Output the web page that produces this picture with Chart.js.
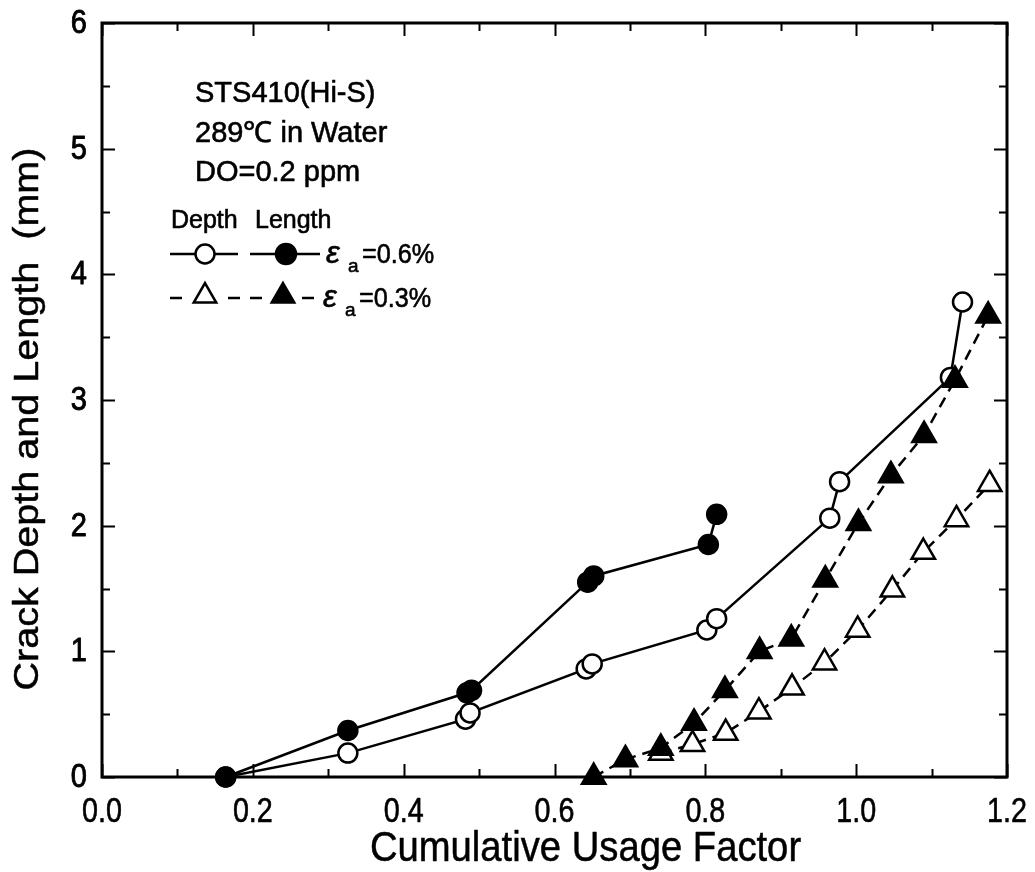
<!DOCTYPE html>
<html>
<head>
<meta charset="utf-8">
<script src="https://cdn.jsdelivr.net/npm/chart.js@4.4.1/dist/chart.umd.min.js"></script>
<style>
  html, body { margin: 0; padding: 0; background: #fff; }
  canvas { display: block; }
</style>
</head>
<body>
<canvas id="chart" width="1035" height="872"></canvas>
<script>
// Crack growth vs. cumulative usage factor, STS410(Hi-S), 289 ℃ water
const depth06X  = [0.164, 0.326, 0.482, 0.488, 0.642, 0.650, 0.802, 0.815, 0.965, 0.978, 1.125, 1.141];
const depth06Y  = [0.00, 0.19, 0.46, 0.51, 0.86, 0.90, 1.17, 1.26, 2.06, 2.35, 3.18, 3.78];

const length06X = [0.164, 0.326, 0.484, 0.490, 0.644, 0.652, 0.804, 0.815];
const length06Y = [0.00, 0.37, 0.67, 0.69, 1.55, 1.60, 1.85, 2.09];

const depth03X  = [0.741, 0.783, 0.827, 0.871, 0.915, 0.958, 1.002, 1.048, 1.089, 1.133, 1.177];
const depth03Y  = [0.19, 0.26, 0.35, 0.52, 0.71, 0.91, 1.17, 1.49, 1.79, 2.05, 2.33];

const length03X = [0.652, 0.694, 0.741, 0.785, 0.826, 0.872, 0.914, 0.959, 1.003, 1.046, 1.090, 1.131, 1.175];
const length03Y = [0.00, 0.14, 0.23, 0.43, 0.69, 1.00, 1.10, 1.57, 2.02, 2.40, 2.72, 3.16, 3.67];

const xMajorTicks = [0.0, 0.2, 0.4, 0.6, 0.8, 1.0, 1.2];
const xMinorTicks = [0.1, 0.3, 0.5, 0.7, 0.9, 1.1];
const yMajorTicks = [0, 1, 2, 3, 4, 5, 6];
const yMinorTicks = [0.5, 1.5, 2.5, 3.5, 4.5, 5.5];

const xTitle = 'Cumulative Usage Factor';
const yTitle = 'Crack Depth and Length  (mm)';
const infoLines = ['STS410(Hi-S)', '289℃ in Water', 'DO=0.2 ppm'];

const SANS = "'Liberation Sans', Arial, sans-serif";

const pts = (xs, ys) => xs.map((v, i) => ({ x: v, y: ys[i] }));

// text with optional horizontal squeeze / rotation and a slightly heavier stroke
function drawText(ctx, txt, x, y, o) {
  ctx.save();
  ctx.translate(x, y);
  if (o.rot) ctx.rotate(o.rot);
  ctx.scale(o.sx || 1, 1);
  ctx.font = o.font;
  ctx.textAlign = o.align || 'left';
  ctx.textBaseline = 'alphabetic';
  ctx.fillStyle = '#000';
  ctx.fillText(txt, 0, 0);
  if (o.heavy) {
    ctx.strokeStyle = '#000';
    ctx.lineWidth = o.heavy;
    ctx.lineJoin = 'round';
    ctx.strokeText(txt, 0, 0);
  }
  ctx.restore();
}

// white page behind the plot
const whiteBg = {
  id: 'whiteBg',
  beforeDraw(chart) {
    const c = chart.ctx;
    c.save();
    c.fillStyle = '#fff';
    c.fillRect(0, 0, chart.width, chart.height);
    c.restore();
  }
};

// closed frame, inward ticks on all four sides, tick labels and axis titles
const axesFrame = {
  id: 'axesFrame',
  beforeDatasetsDraw(chart) {
    const { ctx, chartArea: a, scales: { x, y } } = chart;
    ctx.save();
    ctx.strokeStyle = '#000';
    ctx.lineWidth = 2;
    const tick = (list, len, horizontal) => {
      for (const v of list) {
        ctx.beginPath();
        if (horizontal) {
          const px = Math.round(x.getPixelForValue(v)) + 0.5;
          ctx.moveTo(px, a.bottom); ctx.lineTo(px, a.bottom - len);
          ctx.moveTo(px, a.top); ctx.lineTo(px, a.top + len);
        } else {
          const py = Math.round(y.getPixelForValue(v)) + 0.5;
          ctx.moveTo(a.left, py); ctx.lineTo(a.left + len, py);
          ctx.moveTo(a.right, py); ctx.lineTo(a.right - len, py);
        }
        ctx.stroke();
      }
    };
    tick(xMajorTicks, 13, true);
    tick(xMinorTicks, 8, true);
    tick(yMajorTicks, 13, false);
    tick(yMinorTicks, 8, false);
    ctx.lineWidth = 3;
    ctx.strokeRect(a.left, a.top, a.right - a.left, a.bottom - a.top);
    ctx.restore();

    for (const v of xMajorTicks) {
      drawText(ctx, v.toFixed(1), x.getPixelForValue(v), a.bottom + 45,
        { font: '35px ' + SANS, align: 'center', sx: 0.82, heavy: 0.6 });
    }
    for (const v of yMajorTicks) {
      drawText(ctx, String(v), a.left - 15, y.getPixelForValue(v) + 10,
        { font: '33px ' + SANS, align: 'right', sx: 0.88, heavy: 0.9 });
    }
    drawText(ctx, xTitle, (a.left + a.right) / 2 + 31, 861,
      { font: '42px ' + SANS, align: 'center', sx: 0.91, heavy: 0.5 });
    drawText(ctx, yTitle, 38, (a.top + a.bottom) / 2 + 19,
      { font: '35px ' + SANS, align: 'center', sx: 1.13, rot: -Math.PI / 2, heavy: 0.5 });
  }
};

// condition text and the two-column (Depth / Length) key
const keyBox = {
  id: 'keyBox',
  afterDatasetsDraw(chart) {
    const ctx = chart.ctx;
    infoLines.forEach((t, i) =>
      drawText(ctx, t, 195, 102 + i * 39.5, { font: '29px ' + SANS, heavy: 0.6 }));
    drawText(ctx, 'Depth', 171, 228, { font: '25px ' + SANS, heavy: 0.6 });
    drawText(ctx, 'Length', 255, 228, { font: '25px ' + SANS, heavy: 0.6 });

    ctx.save();
    ctx.strokeStyle = '#000';
    const circle = (cx, cy, r, filled) => {
      ctx.beginPath();
      ctx.arc(cx, cy, r, 0, Math.PI * 2);
      ctx.fillStyle = filled ? '#000' : '#fff';
      ctx.fill();
      ctx.lineWidth = 2.5;
      ctx.stroke();
    };
    const tri = (cx, cy, r, filled) => {
      ctx.beginPath();
      for (let k = 0; k < 3; k++) {
        const ang = k * 2 * Math.PI / 3;
        const px = cx + Math.sin(ang) * r, py = cy - Math.cos(ang) * r;
        k ? ctx.lineTo(px, py) : ctx.moveTo(px, py);
      }
      ctx.closePath();
      ctx.fillStyle = filled ? '#000' : '#fff';
      ctx.fill();
      ctx.lineWidth = 2.5;
      ctx.stroke();
    };
    const seg = (x1, x2, yy) => {
      ctx.beginPath();
      ctx.lineWidth = 2.5;
      ctx.moveTo(x1, yy); ctx.lineTo(x2, yy);
      ctx.stroke();
    };

    // row 1: strain amplitude 0.6 %
    seg(170, 238, 254); circle(205, 254, 9.5, false);
    seg(250, 320, 254); circle(286, 254, 10, true);
    // row 2: strain amplitude 0.3 %
    seg(170, 182, 298); seg(228, 240, 298); tri(205, 296, 13, false);
    seg(250, 262, 298); seg(302, 314, 298); tri(283, 296, 13, true);
    ctx.restore();

    const strainLabel = (xx, base, txt) => {
      drawText(ctx, 'ε', xx, base, { font: 'italic 31px ' + SANS, heavy: 0.6 });
      drawText(ctx, 'a', xx + 22, base + 9, { font: '19px ' + SANS, heavy: 0.6 });
      drawText(ctx, txt, xx + 36, base, { font: '28px ' + SANS, sx: 0.9, heavy: 0.6 });
    };
    strainLabel(326, 263, '=0.6%');
    strainLabel(323, 307, '=0.3%');
  }
};

const base = {
  showLine: true,
  borderColor: '#000',
  borderWidth: 2.5,
  pointBorderColor: '#000',
  pointBorderWidth: 2.5,
  clip: false,
  tension: 0
};

new Chart(document.getElementById('chart'), {
  type: 'scatter',
  data: {
    datasets: [
      Object.assign({}, base, {
        label: 'Length, εa=0.3%',
        data: pts(length03X, length03Y),
        pointStyle: 'triangle', pointRadius: 13.5,
        pointBackgroundColor: '#000',
        borderDash: [11, 7]
      }),
      Object.assign({}, base, {
        label: 'Length, εa=0.6%',
        data: pts(length06X, length06Y),
        pointStyle: 'circle', pointRadius: 9.5,
        pointBackgroundColor: '#000'
      }),
      Object.assign({}, base, {
        label: 'Depth, εa=0.3%',
        data: pts(depth03X, depth03Y),
        pointStyle: 'triangle', pointRadius: 13.5,
        pointBackgroundColor: '#fff',
        borderDash: [11, 7]
      }),
      Object.assign({}, base, {
        label: 'Depth, εa=0.6%',
        data: pts(depth06X, depth06Y),
        pointStyle: 'circle', pointRadius: 9.5,
        pointBackgroundColor: '#fff'
      })
    ]
  },
  options: {
    responsive: false,
    devicePixelRatio: 1,
    animation: false,
    events: [],
    layout: { autoPadding: false, padding: { top: 23, right: 28, left: 0, bottom: 0 } },
    plugins: {
      legend: { display: false },
      tooltip: { enabled: false }
    },
    scales: {
      x: {
        type: 'linear',
        min: 0, max: 1.2,
        grid: { display: false, drawTicks: false },
        border: { display: false },
        ticks: { display: false, stepSize: 0.2 },
        afterFit(s) { s.height = 95; }
      },
      y: {
        type: 'linear',
        min: 0, max: 6,
        grid: { display: false, drawTicks: false },
        border: { display: false },
        ticks: { display: false, stepSize: 1 },
        afterFit(s) { s.width = 102; }
      }
    }
  },
  plugins: [whiteBg, axesFrame, keyBox]
});
</script>
</body>
</html>
